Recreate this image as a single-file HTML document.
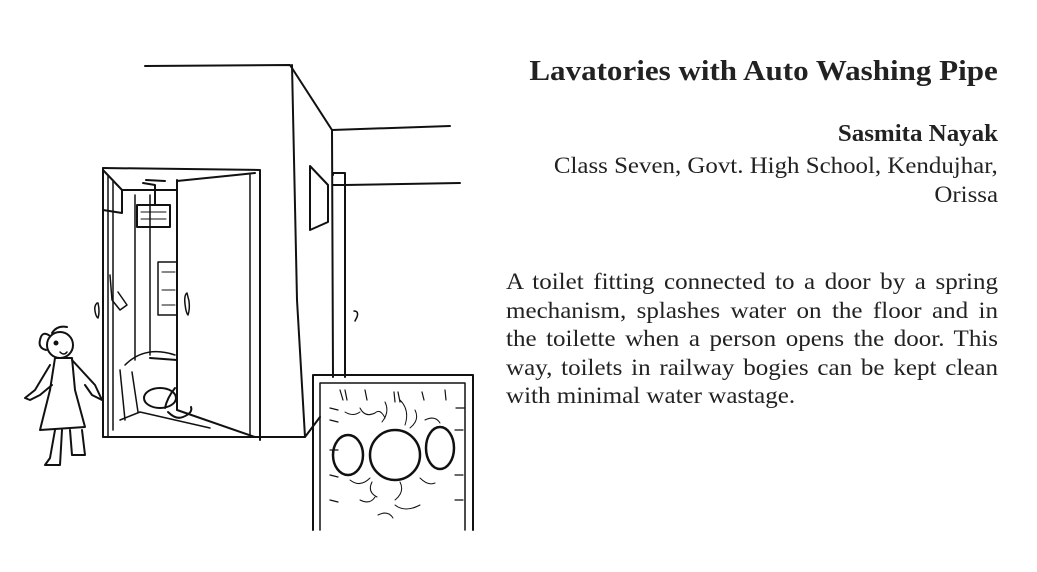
<!DOCTYPE html>
<html><head><meta charset="utf-8"><style>
html,body{margin:0;padding:0;background:#fff;}
body{width:1037px;height:572px;position:relative;overflow:hidden;font-family:"Liberation Serif",serif;color:#222;}
.t{position:absolute;right:39px;text-align:right;white-space:nowrap;line-height:1;transform-origin:right top;}
#title{top:57px;font-size:29px;font-weight:bold;transform:scaleX(1.07);}
#name{top:122px;font-size:24px;font-weight:bold;transform:scaleX(1.04);}
#c1{top:155px;font-size:23.5px;transform:scaleX(1.06);}
#c2{top:184px;font-size:23.5px;transform:scaleX(1.06);}
#para{position:absolute;left:506px;top:268px;width:462px;font-size:23.5px;line-height:28.5px;transform:scaleX(1.065);transform-origin:left top;}
#para div{text-align:justify;text-align-last:justify;white-space:nowrap;}
#para div.l{text-align-last:left;}
svg{position:absolute;left:0;top:0;}
</style></head><body>
<svg width="1037" height="572" viewBox="0 0 1037 572" fill="none" stroke="#111" stroke-width="2" stroke-linecap="round" stroke-linejoin="round">
<path d="M145 66 L290 65 L332 130 L333 377"/>
<path d="M292 65 L297 300 L305 437"/>
<path d="M103 437 L305 437 L320 417"/>
<path d="M332 130 L450 126"/>
<path d="M345 185 L460 183"/>
<path d="M333 175 L333 173 L345 173 L345 377"/>
<path d="M333 185 L345 185"/>
<path d="M310 166 L328 185 L328 222 L310 230 Z"/>
<path d="M354 311 q5 0 3 6 l-2 4" stroke-width="1.5"/>
<path d="M103 168 L103 437"/>
<path d="M108 175 L108 437 M113 180 L113 430" stroke-width="1.5"/>
<path d="M103 168 L260 170 L260 440"/>
<path d="M250 175 L250 437" stroke-width="1.5"/>
<path d="M103 170 L122 190 L122 213 L103 210"/>
<path d="M122 190 L177 190"/>
<path d="M177 180 L177 410 L255 437"/>
<path d="M177 181 L236 175 L255 173"/>
<path d="M135 195 L135 360 M150 195 L150 355" stroke-width="1.5"/>
<path d="M150 358 L177 360"/>
<path d="M137 205 L170 205 L170 227 L137 227 Z"/>
<path d="M141 212 L166 212 M141 219 L166 219" stroke-width="1"/>
<path d="M143 183 L155 185 L155 205"/>
<path d="M146 180 L165 181" />
<path d="M158 262 L177 262 L177 315 L158 315 Z" stroke-width="1.5"/>
<path d="M162 272 L175 272 M162 290 L175 290 M162 305 L175 305" stroke-width="1"/>
<path d="M187 293 q-3 2 -2 11 q1 9 3 11 q2 -6 1 -14 z" stroke-width="1.5"/>
<path d="M97 303 q-3 3 -2 8 q1 6 3 7 q2 -6 0 -15 z" stroke-width="1.5"/>
<path d="M110 275 L112 300 L120 310 L127 305 L118 292" stroke-width="1.5"/>
<ellipse cx="160" cy="398" rx="16" ry="10"/>
<path d="M175 388 q-8 10 -10 20 M168 412 q8 8 15 5 q10 -4 8 -10" />
<path d="M125 365 q20 -20 50 -10 M120 420 L140 412 L175 420 L210 428" stroke-width="1.5"/>
<path d="M120 370 L125 420 M132 372 L138 412" stroke-width="1.5"/>
<path d="M313 530 L313 375 L473 375 L473 530"/>
<path d="M320 530 L320 383 L465 383 L465 530" stroke-width="1.5"/>
<ellipse cx="348" cy="455" rx="15" ry="20" stroke-width="2.5"/>
<circle cx="395" cy="455" r="25" stroke-width="2.5"/>
<ellipse cx="440" cy="448" rx="14" ry="21" stroke-width="2.5"/>
<path d="M340 390 l3 10 M345 390 l2 10 M365 390 l2 10 M394 392 l1 10 M398 392 l2 10 M422 392 l2 8 M445 390 l1 10 M330 408 l8 2 M330 420 l8 2 M456 408 l8 0 M455 430 l8 0 M330 450 l8 0 M330 475 l8 2 M330 500 l8 2 M455 475 l8 0 M455 500 l8 0" stroke-width="1.2"/>
<path d="M345 412 q8 5 15 0 M360 408 q5 10 15 5 q5 -5 10 5 M385 402 q5 10 -3 20 M400 400 q10 10 5 25 M415 410 q5 10 -5 18 M425 420 q10 -5 15 3 M350 480 q10 8 20 -2 M372 482 q-5 10 5 15 M400 482 q5 10 -5 18 M420 478 q8 8 15 5 M360 500 q10 5 15 -3 M395 505 q10 8 25 0 M378 515 q10 -5 15 3" stroke-width="1"/>
<circle cx="60" cy="345" r="13"/>
<path d="M50 336 q-8 -6 -10 4 q-2 8 6 10 M52 333 q5 -8 15 -6" />
<circle cx="56" cy="343" r="1.5" fill="#111"/>
<path d="M60 352 q4 4 7 0" stroke-width="1.5"/>
<path d="M55 358 L50 390 L40 430 L85 427 L75 390 L72 358 Z"/>
<path d="M50 365 L35 390 L25 398 L30 400 L40 395 L52 385"/>
<path d="M72 360 L95 385 L102 400 L92 395 L85 385"/>
<path d="M55 430 L50 458 L45 465 L60 465 L62 430 M70 430 L72 455 L85 455 L82 430"/>
</svg>
<div class="t" id="title">Lavatories with Auto Washing Pipe</div>
<div class="t" id="name">Sasmita Nayak</div>
<div class="t" id="c1">Class Seven, Govt. High School, Kendujhar,</div>
<div class="t" id="c2">Orissa</div>
<div id="para">
<div>A toilet fitting connected to a door by a spring</div>
<div>mechanism, splashes water on the floor and in</div>
<div>the toilette when a person opens the door. This</div>
<div>way, toilets in railway bogies can be kept clean</div>
<div class="l">with minimal water wastage.</div>
</div>
</body></html>
